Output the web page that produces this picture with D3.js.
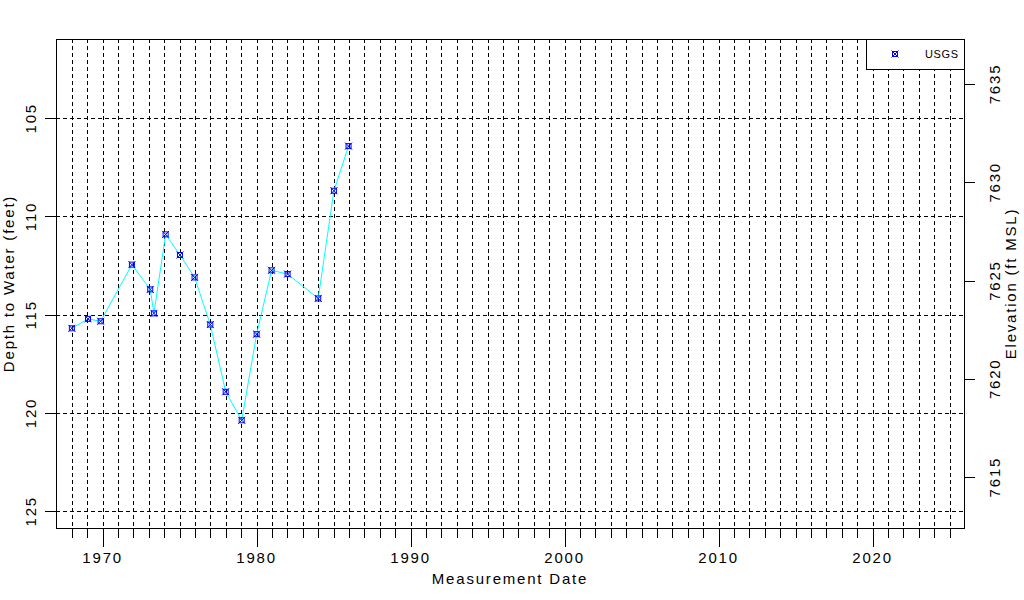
<!DOCTYPE html>
<html>
<head>
<meta charset="utf-8">
<script src="https://cdn.jsdelivr.net/npm/d3@7"></script>
<style>
  body { margin: 0; background: #fff; }
  svg text { font-family: "Liberation Sans", Arial, sans-serif; font-size: 15px; letter-spacing: 1.8px; fill: #000; }
</style>
</head>
<body>
<svg id="chart" width="1024" height="600"></svg>
<script>
// measurement dates (decimal years) and depth to water (feet)
const dates = [1968.0, 1969.05, 1969.87, 1971.9, 1973.09, 1973.33, 1974.09, 1975.02, 1975.97,
  1976.99, 1977.99, 1979.03, 1980.0, 1980.97, 1982.01, 1984.0, 1985.02, 1985.97];
const depths = [115.69, 115.21, 115.33, 112.45, 113.71, 114.93, 110.91, 111.96, 113.1,
  115.5, 118.92, 120.37, 115.99, 112.74, 112.93, 114.17, 108.69, 106.42];
const depthTicks = [105, 110, 115, 120, 125];
const elevTicks = [7615, 7620, 7625, 7630, 7635];
const yearMajor = [1970, 1980, 1990, 2000, 2010, 2020];
const landSurface = 7738.26; // elevation = landSurface - depth

const svg = d3.select("#chart");
const pLeft = 56, pRight = 964, pTop = 39, pBottom = 528;

const x = d3.scaleLinear().domain([1966.97, 2025.94]).range([pLeft, pRight]);
const y = d3.scaleLinear().domain([100.97, 125.85]).range([pTop, pBottom]);

const yearsAll = d3.range(1968, 2026);
const px = v => Math.round(v) + 0.5;

// grid
const grid = svg.append("g").attr("stroke", "#000").attr("stroke-width", 1)
  .attr("stroke-dasharray", "4,3").attr("shape-rendering", "crispEdges");
grid.selectAll("line.v").data(yearsAll).enter().append("line")
  .attr("x1", d => px(x(d))).attr("x2", d => px(x(d)))
  .attr("y1", pTop).attr("y2", pBottom);
grid.selectAll("line.h").data(depthTicks).enter().append("line")
  .attr("x1", pLeft).attr("x2", pRight)
  .attr("y1", d => px(y(d))).attr("y2", d => px(y(d)));

// bottom axis
const xAxis = svg.append("g").attr("transform", `translate(0,${pBottom})`)
  .attr("shape-rendering", "crispEdges");
xAxis.selectAll("line").data(yearsAll).enter().append("line")
  .attr("x1", d => px(x(d))).attr("x2", d => px(x(d)))
  .attr("y1", 0).attr("y2", d => d % 10 === 0 ? 19 : 10).attr("stroke", "#000");
xAxis.selectAll("text").data(yearMajor).enter().append("text")
  .attr("x", d => x(d)).attr("y", 35).attr("text-anchor", "middle").text(d => d);

// left axis
const yAxis = svg.append("g").attr("shape-rendering", "crispEdges");
yAxis.selectAll("line").data(depthTicks).enter().append("line")
  .attr("x1", pLeft - 11).attr("x2", pLeft)
  .attr("y1", d => px(y(d))).attr("y2", d => px(y(d)))
  .attr("stroke", "#000");
yAxis.selectAll("text").data(depthTicks).enter().append("text")
  .attr("transform", d => `translate(36,${y(d)}) rotate(-90)`)
  .attr("text-anchor", "middle").text(d => d);

// right axis (elevation)
const yr = d3.scaleLinear()
  .domain([landSurface - y.domain()[0], landSurface - y.domain()[1]]).range([pTop, pBottom]);
const rAxis = svg.append("g").attr("shape-rendering", "crispEdges");
rAxis.selectAll("line").data(elevTicks).enter().append("line")
  .attr("x1", pRight).attr("x2", pRight + 11)
  .attr("y1", d => px(yr(d))).attr("y2", d => px(yr(d)))
  .attr("stroke", "#000");
rAxis.selectAll("text").data(elevTicks).enter().append("text")
  .attr("transform", d => `translate(1000,${yr(d)}) rotate(-90)`)
  .attr("text-anchor", "middle").text(d => d);

// frame
svg.append("rect").attr("x", pLeft + 0.5).attr("y", pTop + 0.5)
  .attr("width", pRight - pLeft).attr("height", pBottom - pTop)
  .attr("fill", "none").attr("stroke", "#000").attr("shape-rendering", "crispEdges");

// titles
svg.append("text").attr("x", (pLeft + pRight) / 2).attr("y", 584)
  .attr("text-anchor", "middle").text("Measurement Date");
svg.append("text").attr("transform", `translate(14,${(pTop + pBottom) / 2}) rotate(-90)`)
  .attr("text-anchor", "middle").text("Depth to Water (feet)");
svg.append("text").attr("transform", `translate(1016,${(pTop + pBottom) / 2}) rotate(-90)`)
  .attr("text-anchor", "middle").text("Elevation (ft MSL)");

// series
const pts = dates.map((d, i) => [d, depths[i]]);
svg.append("path").datum(pts)
  .attr("fill", "none").attr("stroke", "#00ffff").attr("stroke-width", 1)
  .attr("d", d3.line().x(d => x(d[0])).y(d => y(d[1])));

function marker(g) {
  g.append("rect").attr("x", -2.5).attr("y", -2.5).attr("width", 5).attr("height", 5)
    .attr("fill", "none").attr("stroke", "#0000ff");
  g.append("path").attr("d", "M-3.5,-3.5L3.5,3.5M-3.5,3.5L3.5,-3.5")
    .attr("stroke", "#0000ff").attr("stroke-width", 1);
}
svg.append("g").selectAll("g").data(pts).enter().append("g")
  .attr("transform", d => `translate(${x(d[0])},${y(d[1])})`)
  .each(function () { marker(d3.select(this)); });

// legend
const lg = svg.append("g");
lg.append("rect").attr("x", 866.5).attr("y", pTop + 0.5).attr("width", pRight - 866).attr("height", 30)
  .attr("fill", "#fff").attr("stroke", "#000").attr("shape-rendering", "crispEdges");
marker(lg.append("g").attr("transform", "translate(895,54)"));
lg.append("text").attr("x", 925).attr("y", 58).text("USGS")
  .style("font-size", "11px").style("letter-spacing", "0.6px");
</script>
</body>
</html>
